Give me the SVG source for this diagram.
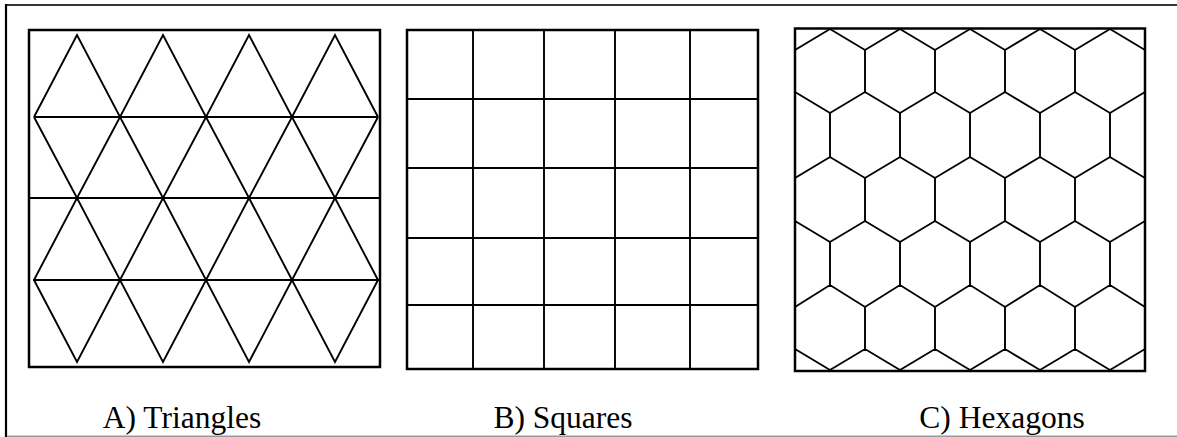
<svg xmlns="http://www.w3.org/2000/svg" width="1177" height="437" viewBox="0 0 1177 437">
<style>
.box{fill:none;stroke:#000;stroke-width:2.5}
.grid{fill:none;stroke:#000;stroke-width:1.9;stroke-linejoin:miter}
.lbl{font-family:"Liberation Serif","Times New Roman",serif;font-size:31.5px;fill:#000;text-anchor:middle}
</style>
<rect width="1177" height="437" fill="#fff"/>
<g id="frame">
<line x1="5" y1="5" x2="1177" y2="5" stroke="#333" stroke-width="1.8"/>
<line x1="6" y1="4" x2="6" y2="437" stroke="#000" stroke-width="2.2"/>
<line x1="7" y1="436.3" x2="1177" y2="436.3" stroke="#999" stroke-width="1.4"/>
</g>
<g id="triangles">
<rect class="box" x="29" y="30" width="351" height="337"/>
<path class="grid" d="M34,117 L77,35 L120,117 L163,35 L206,117 L249,35 L292,117 L335,35 L378,117 M34,117 L77,198 L120,117 L163,198 L206,117 L249,198 L292,117 L335,198 L378,117 M34,117 H378 M29,198 H380 M34,280 L77,198 L120,280 L163,198 L206,280 L249,198 L292,280 L335,198 L378,280 M34,280 L77,362 L120,280 L163,362 L206,280 L249,362 L292,280 L335,362 L378,280 M33,280 H379"/>
<text class="lbl" x="182" y="428">A) Triangles</text>
</g>
<g id="squares">
<rect class="box" x="407" y="30" width="351" height="339"/>
<path class="grid" d="M473,30 V369 M544,30 V369 M615,30 V369 M690,30 V369 M407,99 H758 M407,168 H758 M407,238 H758 M407,305 H758"/>
<text class="lbl" x="563" y="428">B) Squares</text>
</g>
<g id="hexagons">
<rect class="box" x="795" y="28.5" width="350" height="342.5"/>
<path class="grid" d="M795,50 L830,29 L865,50 L900,29 L935,50 L970,29 L1005,50 L1040,29 L1075,50 L1110,29 L1145,50
M795,92 L830,113 L865,92 L900,113 L935,92 L970,113 L1005,92 L1040,113 L1075,92 L1110,113 L1145,92
M795,178 L830,157 L865,178 L900,157 L935,178 L970,157 L1005,178 L1040,157 L1075,178 L1110,157 L1145,178
M795,221 L830,242 L865,221 L900,242 L935,221 L970,242 L1005,221 L1040,242 L1075,221 L1110,242 L1145,221
M795,307 L830,285 L865,307 L900,285 L935,307 L970,285 L1005,307 L1040,285 L1075,307 L1110,285 L1145,307
M795,349 L830,370 L865,349 L900,370 L935,349 L970,370 L1005,349 L1040,370 L1075,349 L1110,370 L1145,349
M865,50 V92 M935,50 V92 M1005,50 V92 M1075,50 V92
M830,113 V157 M900,113 V157 M970,113 V157 M1040,113 V157 M1110,113 V157
M865,178 V221 M935,178 V221 M1005,178 V221 M1075,178 V221
M830,242 V285 M900,242 V285 M970,242 V285 M1040,242 V285 M1110,242 V285
M865,307 V349 M935,307 V349 M1005,307 V349 M1075,307 V349"/>
<text class="lbl" x="1002" y="428">C) Hexagons</text>
</g>
</svg>
